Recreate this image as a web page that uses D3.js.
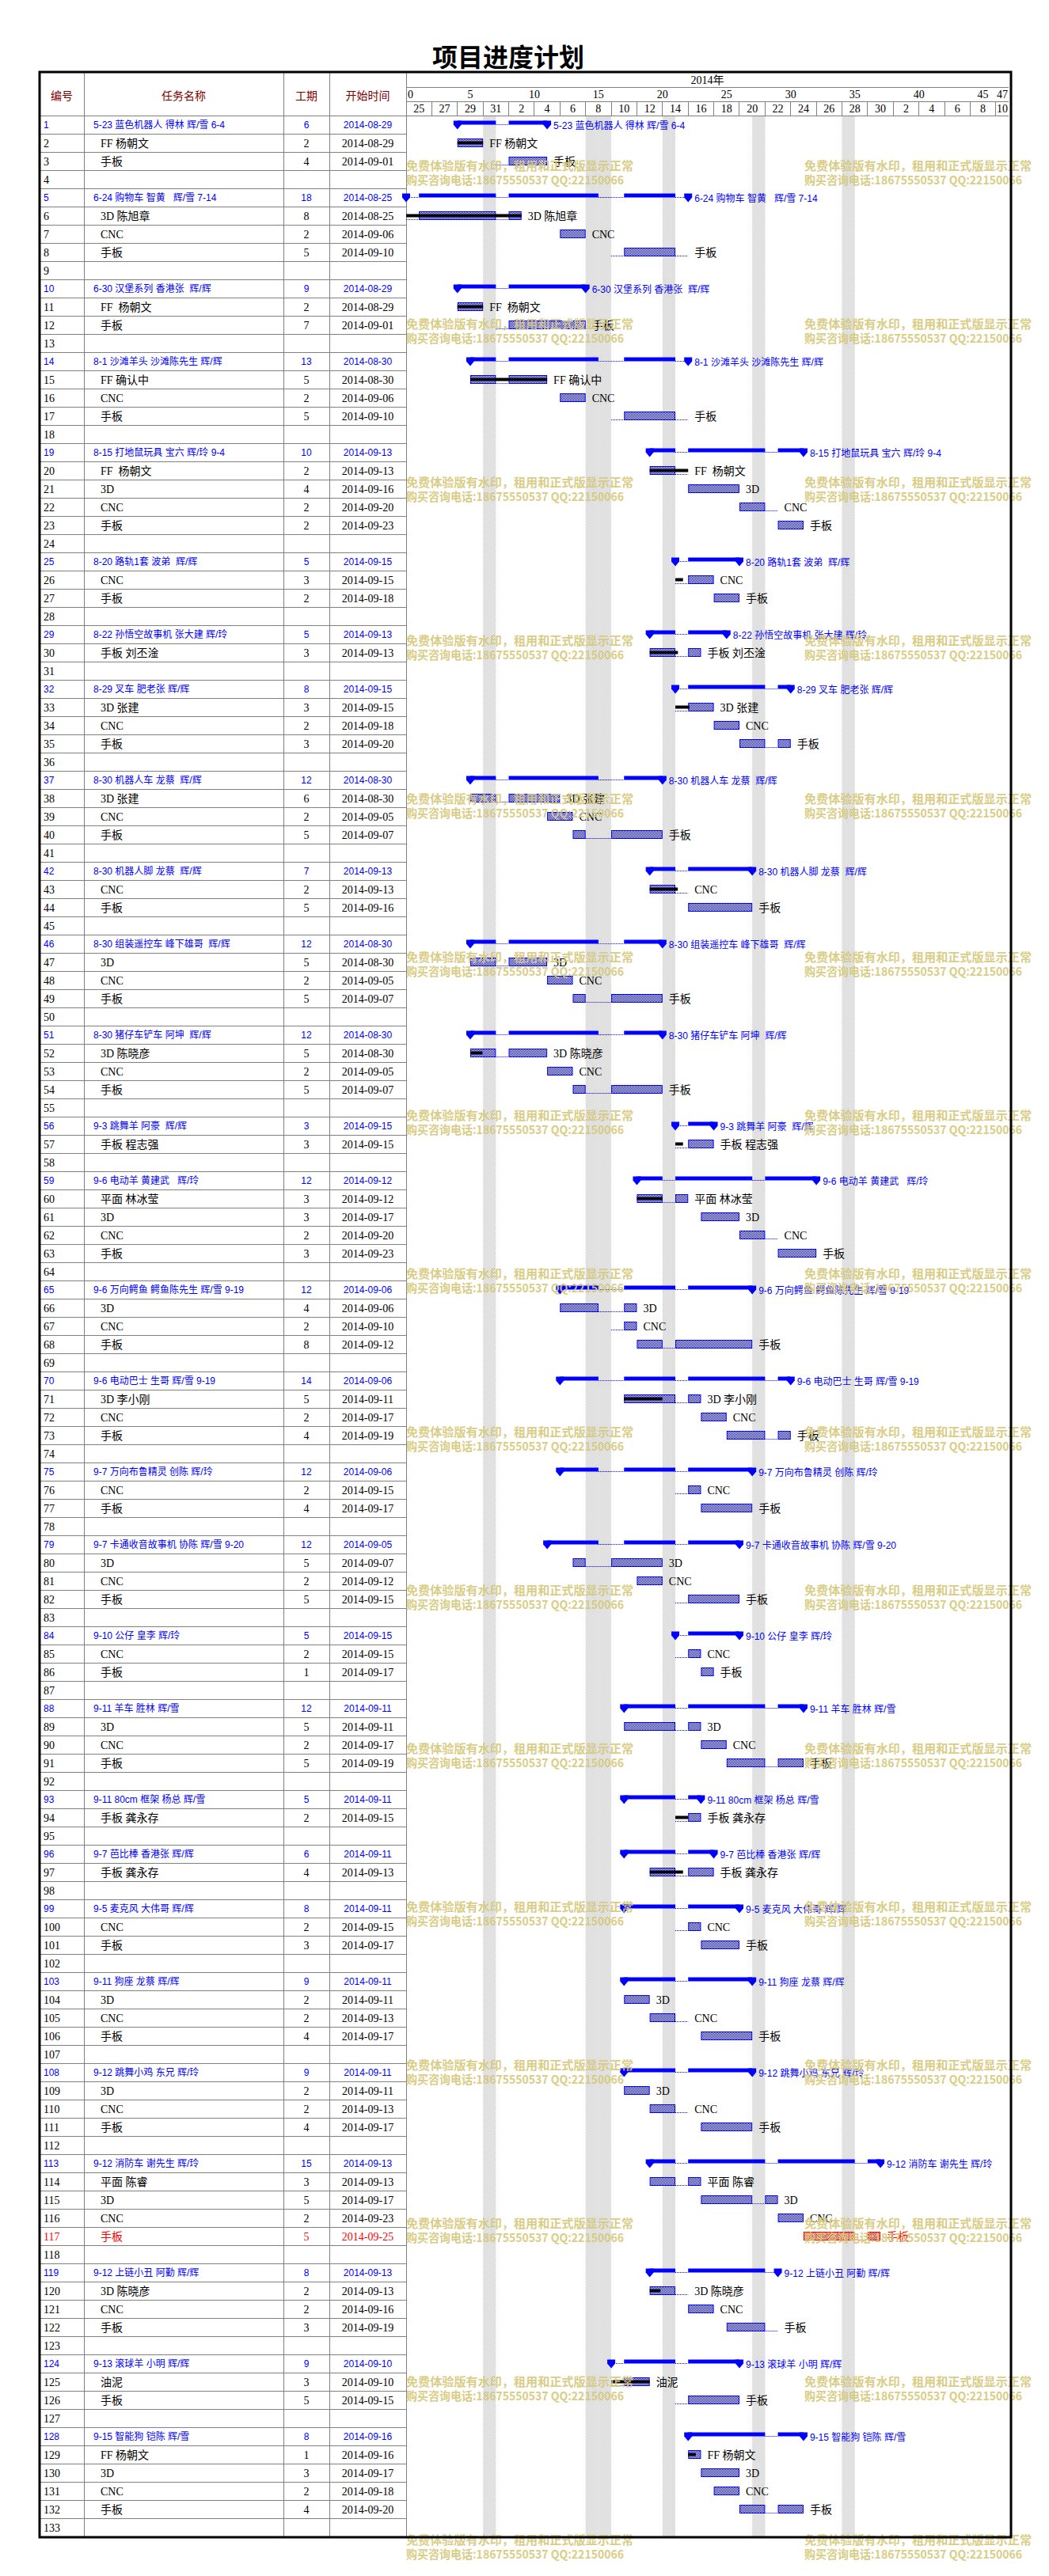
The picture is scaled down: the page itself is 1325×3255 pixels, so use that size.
<!DOCTYPE html>
<html>
<head>
<meta charset="utf-8">
<script src="https://cdn.jsdelivr.net/npm/d3@7"></script>
<style>
  body { margin: 0; background: #fff; }
  text { white-space: pre; }
</style>
</head>
<body>
<div id="chart"></div>
<script>
// rows of the plan, top to bottom ('' = empty row)
const taskNames = [
  '5-23 蓝色机器人 得林 辉/雪 6-4', 'FF 杨朝文', '手板', '',
  '6-24 购物车 智黄   辉/雪 7-14', '3D 陈旭章', 'CNC', '手板', '',
  '6-30 汉堡系列 香港张  辉/辉', 'FF  杨朝文', '手板', '',
  '8-1 沙滩羊头 沙滩陈先生 辉/辉', 'FF 确认中', 'CNC', '手板', '',
  '8-15 打地鼠玩具 宝六 辉/玲 9-4', 'FF  杨朝文', '3D', 'CNC', '手板', '',
  '8-20 路轨1套 波弟  辉/辉', 'CNC', '手板', '',
  '8-22 孙悟空故事机 张大建 辉/玲', '手板 刘丕淦', '',
  '8-29 叉车 肥老张 辉/辉', '3D 张建', 'CNC', '手板', '',
  '8-30 机器人车 龙蔡  辉/辉', '3D 张建', 'CNC', '手板', '',
  '8-30 机器人脚 龙蔡  辉/辉', 'CNC', '手板', '',
  '8-30 组装遥控车 峰下雄哥  辉/辉', '3D', 'CNC', '手板', '',
  '8-30 猪仔车铲车 阿坤  辉/辉', '3D 陈晓彦', 'CNC', '手板', '',
  '9-3 跳舞羊 阿豪  辉/辉', '手板 程志强', '',
  '9-6 电动羊 黄建武   辉/玲', '平面 林冰莹', '3D', 'CNC', '手板', '',
  '9-6 万向鳄鱼 鳄鱼陈先生 辉/雪 9-19', '3D', 'CNC', '手板', '',
  '9-6 电动巴士 生哥 辉/雪 9-19', '3D 李小刚', 'CNC', '手板', '',
  '9-7 万向布鲁精灵 创陈 辉/玲', 'CNC', '手板', '',
  '9-7 卡通收音故事机 协陈 辉/雪 9-20', '3D', 'CNC', '手板', '',
  '9-10 公仔 皇李 辉/玲', 'CNC', '手板', '',
  '9-11 羊车 胜林 辉/雪', '3D', 'CNC', '手板', '',
  '9-11 80cm 框架 杨总 辉/雪', '手板 龚永存', '',
  '9-7 芭比棒 香港张 辉/辉', '手板 龚永存', '',
  '9-5 麦克风 大伟哥 辉/辉', 'CNC', '手板', '',
  '9-11 狗座 龙蔡 辉/辉', '3D', 'CNC', '手板', '',
  '9-12 跳舞小鸡 东兄 辉/玲', '3D', 'CNC', '手板', '',
  '9-12 消防车 谢先生 辉/玲', '平面 陈睿', '3D', 'CNC', '手板', '',
  '9-12 上链小丑 阿勤 辉/辉', '3D 陈晓彦', 'CNC', '手板', '',
  '9-13 滚球羊 小明 辉/辉', '油泥', '手板', '',
  '9-15 智能狗 铠陈 辉/雪', 'FF 杨朝文', '3D', 'CNC', '手板', ''
];

const durations = [
  6, 2, 4, 0,
  18, 8, 2, 5, 0,
  9, 2, 7, 0,
  13, 5, 2, 5, 0,
  10, 2, 4, 2, 2, 0,
  5, 3, 2, 0,
  5, 3, 0,
  8, 3, 2, 3, 0,
  12, 6, 2, 5, 0,
  7, 2, 5, 0,
  12, 5, 2, 5, 0,
  12, 5, 2, 5, 0,
  3, 3, 0,
  12, 3, 3, 2, 3, 0,
  12, 4, 2, 8, 0,
  14, 5, 2, 4, 0,
  12, 2, 4, 0,
  12, 5, 2, 5, 0,
  5, 2, 1, 0,
  12, 5, 2, 5, 0,
  5, 2, 0,
  6, 4, 0,
  8, 2, 3, 0,
  9, 2, 2, 4, 0,
  9, 2, 2, 4, 0,
  15, 3, 5, 2, 5, 0,
  8, 2, 2, 3, 0,
  9, 3, 5, 0,
  8, 1, 3, 2, 4, 0
];

const startDates = [
  '08-29', '08-29', '09-01', '',
  '08-25', '08-25', '09-06', '09-10', '',
  '08-29', '08-29', '09-01', '',
  '08-30', '08-30', '09-06', '09-10', '',
  '09-13', '09-13', '09-16', '09-20', '09-23', '',
  '09-15', '09-15', '09-18', '',
  '09-13', '09-13', '',
  '09-15', '09-15', '09-18', '09-20', '',
  '08-30', '08-30', '09-05', '09-07', '',
  '09-13', '09-13', '09-16', '',
  '08-30', '08-30', '09-05', '09-07', '',
  '08-30', '08-30', '09-05', '09-07', '',
  '09-15', '09-15', '',
  '09-12', '09-12', '09-17', '09-20', '09-23', '',
  '09-06', '09-06', '09-10', '09-12', '',
  '09-06', '09-11', '09-17', '09-19', '',
  '09-06', '09-15', '09-17', '',
  '09-05', '09-07', '09-12', '09-15', '',
  '09-15', '09-15', '09-17', '',
  '09-11', '09-11', '09-17', '09-19', '',
  '09-11', '09-15', '',
  '09-11', '09-13', '',
  '09-11', '09-15', '09-17', '',
  '09-11', '09-11', '09-13', '09-17', '',
  '09-11', '09-11', '09-13', '09-17', '',
  '09-13', '09-13', '09-17', '09-23', '09-25', '',
  '09-13', '09-13', '09-16', '09-19', '',
  '09-10', '09-10', '09-15', '',
  '09-16', '09-16', '09-17', '09-18', '09-20', ''
];

const summaryRows = [1, 5, 10, 14, 19, 25, 29, 32, 37, 42, 46, 51, 56, 59, 65, 70, 75, 79,
  84, 88, 93, 96, 99, 103, 108, 113, 119, 124, 128];

// completed share of each task (row number, fraction)
const progressRows = [[2, 1], [6, 1], [11, 1], [15, 1], [20, 1], [26, 0.2], [30, 0.55], [33, 0.37],
  [43, 0.73], [52, 0.16], [57, 0.2], [60, 0.5], [71, 0.5], [94, 0.5], [97, 0.52], [120, 0.28],
  [125, 1], [129, 0.6]];

const redRows = [117];

// non-working days
const offDates = ['2014-08-24', '2014-08-31', '2014-09-08', '2014-09-09', '2014-09-14', '2014-09-21', '2014-09-28'];
// tasks starting on these dates draw their breaks on the off day itself, the rest one day later
const plainBreakStarts = ['09-07', '09-12', '09-17'];

const scaleTicks = [0, 5, 10, 15, 20, 25, 30, 35, 40, 45, 47];

const W = 1325, H = 3255;
const rowH = 23, top0 = 146, nRows = taskNames.length;
const gx0 = 513, gx1 = 1274, nDays = 47;
const blue = '#0000ff', red = '#ff0000', grid = '#808080';
const serif = '"Liberation Serif", "Noto Sans CJK SC", serif';
const sans = '"Liberation Sans", "Noto Sans CJK SC", sans-serif';

const parse = d3.timeParse('%Y-%m-%d');
const fmt = d3.timeFormat('%Y-%m-%d');
const origin = parse('2014-08-25');

const x = d3.scaleTime()
  .domain([origin, d3.timeDay.offset(origin, nDays)])
  .range([gx0, gx1]);
const dayX = d => x(d3.timeDay.offset(origin, d));
const y = d3.scaleLinear().domain([0, nRows]).range([top0, top0 + nRows * rowH]);

const offIdx = new Set(offDates.map(s => d3.timeDay.count(origin, parse(s))));
const progress = new Map(progressRows);

function endDay(s, dur) {
  let d = s, n = 0;
  while (n < dur) { if (!offIdx.has(d)) n++; d++; }
  return d;
}

function segments(s, e, shift) {
  const out = [];
  for (let d = s; d < e; d++) {
    const gap = offIdx.has(d - shift);
    const last = out[out.length - 1];
    if (last && last.gap === gap) last.e = d + 1;
    else out.push({ s: d, e: d + 1, gap });
  }
  return out;
}

const rows = taskNames.map((name, i) => {
  const id = i + 1;
  const st = startDates[i];
  const r = { id, name, dur: durations[i], st, summary: summaryRows.includes(id), red: redRows.includes(id) };
  if (st) {
    r.date = parse('2014-' + st);
    r.s = d3.timeDay.count(origin, r.date);
    r.e = endDay(r.s, r.dur);
    r.segs = segments(r.s, r.e, plainBreakStarts.includes(st) ? 0 : 1);
  }
  return r;
});

const svg = d3.select('#chart').append('svg')
  .attr('width', W)
  .attr('height', H)
  .style('background', '#fff');

const defs = svg.append('defs');
function checker(id, color) {
  const p = defs.append('pattern').attr('id', id)
    .attr('width', 2).attr('height', 2).attr('patternUnits', 'userSpaceOnUse');
  p.append('rect').attr('width', 2).attr('height', 2).attr('fill', '#fff');
  p.append('rect').attr('width', 1).attr('height', 1).attr('fill', color);
  p.append('rect').attr('x', 1).attr('y', 1).attr('width', 1).attr('height', 1).attr('fill', color);
}
checker('hatch-blue', blue);
checker('hatch-red', red);
checker('hatch-gray', '#c4c4c4');

// title
svg.append('text')
  .attr('x', 642).attr('y', 70)
  .attr('text-anchor', 'middle').attr('dominant-baseline', 'central')
  .attr('font-family', '"Noto Sans CJK SC", sans-serif')
  .attr('font-size', 32).attr('font-weight', 700)
  .text('项目进度计划');

// non-working day shading
svg.append('g').selectAll('rect')
  .data([...offIdx].filter(d => d >= 0 && d < nDays))
  .enter().append('rect')
  .attr('x', d => dayX(d)).attr('width', d => dayX(d + 1) - dayX(d))
  .attr('y', top0).attr('height', nRows * rowH)
  .attr('fill', 'url(#hatch-gray)');

// grid
const gridG = svg.append('g').attr('stroke', grid).attr('stroke-width', 1).attr('shape-rendering', 'crispEdges');
gridG.selectAll('line.row')
  .data(d3.range(nRows + 1))
  .enter().append('line')
  .attr('x1', 50).attr('x2', gx0)
  .attr('y1', d => y(d)).attr('y2', d => y(d));
gridG.append('line').attr('x1', gx0).attr('x2', gx1).attr('y1', top0).attr('y2', top0);
gridG.append('line').attr('x1', gx0).attr('x2', gx1).attr('y1', 110).attr('y2', 110);
gridG.append('line').attr('x1', gx0).attr('x2', gx1).attr('y1', 128).attr('y2', 128);
gridG.selectAll('line.col')
  .data([106, 358, 416, gx0])
  .enter().append('line')
  .attr('x1', d => d).attr('x2', d => d)
  .attr('y1', 92).attr('y2', y(nRows));
const dateCols = d3.range(0, nDays, 2);
gridG.selectAll('line.date')
  .data(dateCols.slice(1))
  .enter().append('line')
  .attr('x1', d => dayX(d)).attr('x2', d => dayX(d))
  .attr('y1', 128).attr('y2', top0);

// header
const head = svg.append('g').attr('font-family', serif).attr('font-size', 14)
  .attr('dominant-baseline', 'central').attr('text-anchor', 'middle');
[['编号', 78], ['任务名称', 232], ['工期', 387], ['开始时间', 464.5]].forEach(([t, cx]) => {
  head.append('text').attr('x', cx).attr('y', 120).attr('fill', '#800000')
    .attr('font-family', '"Noto Sans CJK SC", sans-serif').text(t);
});
head.append('text').attr('x', (gx0 + gx1) / 2).attr('y', 101).text('2014年');
head.selectAll('text.tick')
  .data(scaleTicks)
  .enter().append('text')
  .attr('x', (d, i) => i === 0 ? dayX(d) + 2 : i === scaleTicks.length - 1 ? dayX(d) - 1 : dayX(d))
  .attr('text-anchor', (d, i) => i === 0 ? 'start' : i === scaleTicks.length - 1 ? 'end' : 'middle')
  .attr('y', 119)
  .text(d => d);
head.selectAll('text.date')
  .data(dateCols)
  .enter().append('text')
  .attr('x', d => (dayX(d) + dayX(Math.min(d + 2, nDays))) / 2)
  .attr('y', 137.5)
  .text(d => d3.timeDay.offset(origin, d).getDate());

// table cells
const cells = svg.append('g').attr('dominant-baseline', 'central');
rows.forEach((r, i) => {
  const cy = y(i) + rowH / 2 + 0.5;
  const color = r.red ? red : r.summary ? blue : '#000';
  const font = r.summary ? sans : serif;
  const size = r.summary ? 12 : 14;
  const g = cells.append('g').attr('fill', color).attr('font-family', font).attr('font-size', size);
  g.append('text').attr('x', 55).attr('y', cy).text(r.id);
  if (!r.st) return;
  g.append('text').attr('x', r.summary ? 118 : 127).attr('y', cy).text(r.name);
  g.append('text').attr('x', 387).attr('y', cy).attr('text-anchor', 'middle').text(r.dur);
  g.append('text').attr('x', 464.5).attr('y', cy).attr('text-anchor', 'middle').text(fmt(r.date));
});

// gantt bars
const bars = svg.append('g');
rows.filter(r => r.st).forEach((r, i) => {
  const t = y(r.id - 1);
  const g = bars.append('g');
  const col = r.red ? red : blue;
  if (r.summary) {
    r.segs.forEach(sg => {
      if (sg.gap) {
        g.append('line').attr('x1', dayX(sg.s)).attr('x2', dayX(sg.e))
          .attr('y1', t + 11.5).attr('y2', t + 11.5)
          .attr('stroke', col).attr('stroke-dasharray', '1,1');
      } else {
        g.append('rect').attr('x', dayX(sg.s)).attr('width', dayX(sg.e) - dayX(sg.s))
          .attr('y', t + 6.5).attr('height', 5).attr('fill', col);
      }
    });
    [r.s, r.e].forEach(d => {
      const cx = dayX(d), y0 = t + 6.5;
      g.append('path')
        .attr('d', `M${cx - 5},${y0}H${cx + 5}V${y0 + 5}L${cx},${y0 + 11}L${cx - 5},${y0 + 5}Z`)
        .attr('fill', col);
    });
    g.append('text')
      .attr('x', dayX(r.e) + 8).attr('y', t + 12.5)
      .attr('dominant-baseline', 'central')
      .attr('font-family', sans).attr('font-size', 12)
      .attr('fill', col).text(r.name);
  } else {
    r.segs.forEach(sg => {
      if (sg.gap) {
        g.append('line').attr('x1', dayX(sg.s)).attr('x2', dayX(sg.e))
          .attr('y1', t + 16.5).attr('y2', t + 16.5)
          .attr('stroke', col).attr('stroke-dasharray', '1,1');
      } else {
        g.append('rect').attr('x', dayX(sg.s) + 0.5).attr('width', dayX(sg.e) - dayX(sg.s) - 1)
          .attr('y', t + 6.5).attr('height', 10)
          .attr('fill', r.red ? 'url(#hatch-red)' : 'url(#hatch-blue)')
          .attr('stroke', col).attr('stroke-width', 1);
      }
    });
    const p = progress.get(r.id);
    if (p) {
      g.append('rect').attr('x', dayX(r.s))
        .attr('width', p * (dayX(r.e) - dayX(r.s)))
        .attr('y', t + 9.5).attr('height', 4).attr('fill', '#000');
    }
    g.append('text')
      .attr('x', dayX(r.e) + 8).attr('y', t + 12.5)
      .attr('dominant-baseline', 'central')
      .attr('font-family', serif).attr('font-size', 14)
      .attr('fill', r.red ? red : '#000').text(r.name);
  }
});

// trial-version watermark
const wm = svg.append('g')
  .attr('font-family', '"Noto Sans CJK SC", sans-serif')
  .attr('font-size', 15).attr('font-weight', 700)
  .attr('fill', '#d6c87a').attr('opacity', 0.9)
  .attr('dominant-baseline', 'central');
d3.range(16).forEach(k => {
  [513, 1016].forEach(wx => {
    wm.append('text').attr('x', wx).attr('y', 208 + 200 * k)
      .attr('textLength', 287).attr('lengthAdjust', 'spacingAndGlyphs')
      .text('免费体验版有水印，租用和正式版显示正常');
    wm.append('text').attr('x', wx).attr('y', 226 + 200 * k)
      .attr('textLength', 275).attr('lengthAdjust', 'spacingAndGlyphs')
      .text('购买咨询电话:18675550537 QQ:22150066');
  });
});

// outer frame
svg.append('rect')
  .attr('x', 50).attr('y', 91)
  .attr('width', 1277 - 50).attr('height', y(nRows) + 1 - 91)
  .attr('fill', 'none').attr('stroke', '#000').attr('stroke-width', 3);
</script>
</body>
</html>
